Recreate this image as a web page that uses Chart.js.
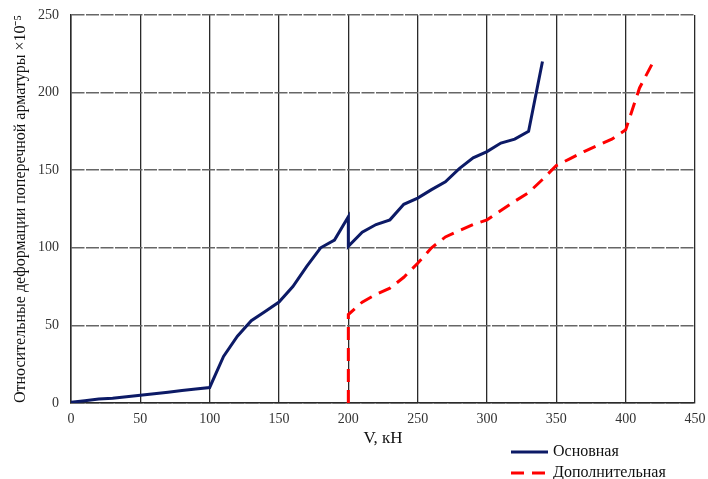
<!DOCTYPE html>
<html>
<head>
<meta charset="utf-8">
<script src="https://cdn.jsdelivr.net/npm/chart.js@4/dist/chart.umd.min.js"></script>
<style>
  html, body { margin: 0; padding: 0; background: #fff; }
  #wrap { width: 708px; height: 479px; }
</style>
</head>
<body>
<div id="wrap"><canvas id="strainChart" width="708" height="479"></canvas></div>
<script>
// V, kN and strain (x10^-5)
const mainV = [0, 10, 20, 30, 40, 50, 60, 70, 80, 90, 100, 110, 120, 130, 140, 150, 160, 170, 180, 190, 200, 200,
  210, 220, 230, 240, 250, 260, 270, 280, 290, 300, 310, 320, 330, 340];
const mainE = [0.5, 1.5, 2.5, 3, 4, 5, 6, 7, 8, 9, 10, 30, 43, 53, 59, 65, 75, 88, 100, 105, 120, 101,
  110, 115, 118, 128, 132, 137.5, 142.5, 151, 158, 162, 167.5, 170, 175, 220];

const extraV = [200, 200, 210, 220, 230, 240, 250, 260, 270, 280, 290, 300, 310, 320, 330, 340, 350, 360,
  370, 380, 390, 400, 410, 420];
const extraE = [0, 57, 65, 70, 74, 81, 90, 100, 107, 111, 115, 118, 124, 130, 135.5, 144, 153, 157.5,
  162, 166, 170, 176, 203, 220];

const xTicks = [0, 50, 100, 150, 200, 250, 300, 350, 400, 450];
const yTicks = [0, 50, 100, 150, 200, 250];

const seriesNames = ["Основная", "Дополнительная"];

const toPoints = (xs, ys) => xs.map((x, i) => ({ x: x, y: ys[i] }));

const serif = "'Liberation Serif', 'Times New Roman', serif";

// legend drawn under the plot, at the right
const blockLegend = {
  id: "blockLegend",
  afterDraw(chart) {
    const ctx = chart.ctx;
    ctx.save();
    chart.data.datasets.forEach((ds, i) => {
      const y = 452 + i * 21;
      ctx.beginPath();
      ctx.lineWidth = ds.borderWidth;
      ctx.strokeStyle = ds.borderColor;
      ctx.setLineDash(ds.borderDash || []);
      ctx.moveTo(511, y);
      ctx.lineTo(548, y);
      ctx.stroke();
      ctx.setLineDash([]);
      ctx.fillStyle = "#111";
      ctx.font = "16px " + serif;
      ctx.textBaseline = "middle";
      ctx.fillText(ds.label, 553, y);
    });
    ctx.restore();
  }
};

const ctx = document.getElementById("strainChart").getContext("2d");
new Chart(ctx, {
  type: "line",
  data: {
    datasets: [
      {
        label: seriesNames[0],
        data: toPoints(mainV, mainE),
        borderColor: "#0c1a66",
        borderWidth: 3,
        pointRadius: 0,
        fill: false,
        tension: 0
      },
      {
        label: seriesNames[1],
        data: toPoints(extraV, extraE),
        borderColor: "#ff0000",
        borderWidth: 3,
        borderDash: [13, 8],
        pointRadius: 0,
        fill: false,
        tension: 0
      }
    ]
  },
  options: {
    responsive: false,
    animation: false,
    layout: { padding: { left: 0, right: 13, top: 15, bottom: 0 } },
    plugins: {
      legend: { display: false },
      tooltip: { enabled: false }
    },
    scales: {
      x: {
        type: "linear",
        min: 0,
        max: 450,
        afterBuildTicks: (scale) => { scale.ticks = xTicks.map((v) => ({ value: v })); },
        afterFit: (scale) => {
          scale.height = 76;
          scale.paddingLeft = 0;
          scale.paddingRight = 0;
        },
        grid: { color: "#2a2a2a", lineWidth: 1.3, drawTicks: false },
        border: { color: "#2a2a2a", width: 1.5 },
        ticks: {
          padding: 8,
          color: "#333",
          font: { family: serif, size: 14 }
        },
        title: {
          display: true,
          text: "V, кН",
          color: "#111",
          font: { family: serif, size: 17 },
          padding: { top: 0, bottom: 30 }
        }
      },
      y: {
        min: 0,
        max: 250,
        afterBuildTicks: (scale) => { scale.ticks = yTicks.map((v) => ({ value: v })); },
        afterFit: (scale) => {
          scale.width = 71;
          scale.paddingTop = 0;
          scale.paddingBottom = 0;
        },
        grid: { color: "#666", lineWidth: 1.5, drawTicks: false },
        border: { color: "#2a2a2a", width: 1.5, dash: [13, 1.5] },
        ticks: {
          padding: 12,
          color: "#333",
          font: { family: serif, size: 14 }
        },
        title: {
          display: true,
          text: "Относительные деформации поперечной арматуры ×10⁻⁵",
          color: "#111",
          font: { family: serif, size: 16 },
          padding: { top: 11, bottom: 0 }
        }
      }
    }
  },
  plugins: [blockLegend]
});
</script>
</body>
</html>
